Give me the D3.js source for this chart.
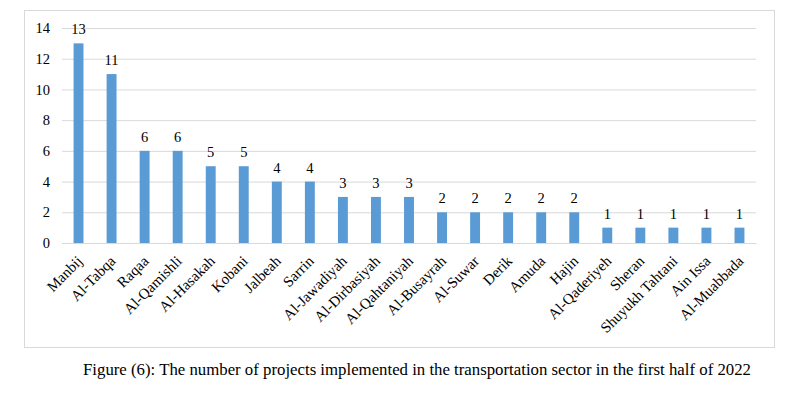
<!DOCTYPE html>
<html>
<head>
<meta charset="utf-8">
<script src="https://cdn.jsdelivr.net/npm/d3@7"></script>
<style>
  body { margin: 0; background: #fff; }
  text { font-family: "Liberation Serif", "Times New Roman", serif; fill: #000; }
</style>
</head>
<body>
<svg id="chart" width="805" height="398"></svg>
<script>
// data
const categories = ['Manbij', 'Al-Tabqa', 'Raqaa', 'Al-Qamishli', 'Al-Hasakah', 'Kobani', 'Jalbeah', 'Sarrin',
  'Al-Jawadiyah', 'Al-Dirbasiyah', 'Al-Qahtaniyah', 'Al-Busayrah', 'Al-Suwar', 'Derik', 'Amuda', 'Hajin',
  'Al-Qaderiyeh', 'Sheran', 'Shuyukh Tahtani', 'Ain Issa', 'Al-Muabbada'];
const projects = [13, 11, 6, 6, 5, 5, 4, 4, 3, 3, 3, 2, 2, 2, 2, 2, 1, 1, 1, 1, 1];
const yTicks = [0, 2, 4, 6, 8, 10, 12, 14];
const caption = 'Figure (6): The number of projects implemented in the transportation sector in the first half of 2022';

const svg = d3.select('#chart');

// outer frame
svg.append('rect')
  .attr('x', 24.5).attr('y', 10.5)
  .attr('width', 750).attr('height', 337)
  .attr('fill', 'none')
  .attr('stroke', '#d9d9d9');

const plotLeft = 62, plotRight = 756, plotTop = 28, plotBottom = 243;

const x = d3.scaleBand()
  .domain(categories)
  .range([plotLeft, plotRight])
  .paddingInner(0.7)
  .paddingOuter(0.35);

const y = d3.scaleLinear()
  .domain([0, 14])
  .range([plotBottom, plotTop]);

// grid lines
svg.append('g')
  .attr('transform', `translate(${plotLeft},0)`)
  .call(d3.axisLeft(y).tickValues(yTicks).tickSize(-(plotRight - plotLeft)).tickFormat(''))
  .call(g => g.select('.domain').remove())
  .selectAll('line')
    .attr('stroke', '#d9d9d9');

// y tick labels
svg.append('g')
  .attr('transform', `translate(${plotLeft},0)`)
  .call(d3.axisLeft(y).tickValues(yTicks).tickSize(0).tickPadding(12))
  .call(g => g.select('.domain').remove())
  .selectAll('text')
    .style('font-size', '14.5px');

// bars
svg.selectAll('.bar')
  .data(projects)
  .enter()
  .append('rect')
    .attr('class', 'bar')
    .attr('x', (d, i) => x(categories[i]))
    .attr('y', d => y(d))
    .attr('width', x.bandwidth())
    .attr('height', d => y(0) - y(d))
    .attr('fill', '#5b9bd5');

// value labels
svg.selectAll('.val')
  .data(projects)
  .enter()
  .append('text')
    .attr('class', 'val')
    .attr('x', (d, i) => x(categories[i]) + x.bandwidth() / 2)
    .attr('y', d => y(d) - 9)
    .attr('text-anchor', 'middle')
    .style('font-size', '14.5px')
    .text(d => d);

// x axis labels, rotated
svg.append('g')
  .attr('transform', `translate(0,${plotBottom})`)
  .call(d3.axisBottom(x).tickSize(0).tickPadding(0))
  .call(g => g.select('.domain').attr('stroke', '#d9d9d9'))
  .selectAll('text')
    .style('font-size', '15px')
    .attr('text-anchor', 'end')
    .attr('dy', 0)
    .attr('transform', 'translate(5,19) rotate(-45)');

// caption
svg.append('text')
  .attr('x', 83)
  .attr('y', 375)
  .style('font-size', '16.8px')
  .text(caption);
</script>
</body>
</html>
